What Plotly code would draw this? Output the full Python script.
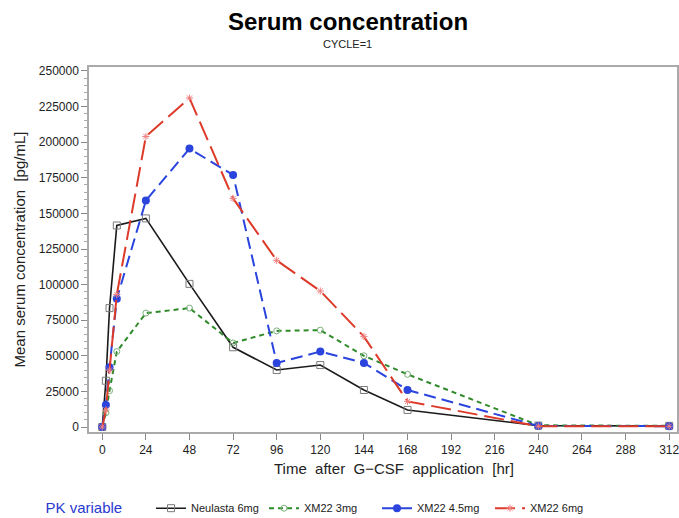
import plotly.graph_objects as go

times = [0, 2, 4, 8, 24, 48, 72, 96, 120, 144, 168, 240, 312]
neulasta_6mg = [0, 32500, 83500, 141500, 146500, 100500, 56000, 40000, 43500, 26000, 12000, 1000, 800]
xm22_3mg = [0, 10000, 25500, 53000, 80000, 83500, 59000, 67500, 68000, 50000, 37000, 1200, 800]
xm22_4_5mg = [0, 15500, 42000, 90000, 159000, 195500, 177000, 45000, 53000, 45000, 26000, 800, 600]
xm22_6mg = [0, 12000, 40000, 93000, 204000, 231000, 160500, 117000, 95500, 63500, 18000, 600, 500]

series_names = ["Neulasta 6mg", "XM22 3mg", "XM22 4.5mg", "XM22 6mg"]
x_ticks = list(range(0, 313, 24))
y_ticks = list(range(0, 250001, 25000))
y_tick_labels = [str(v) for v in y_ticks]

FONT = "Liberation Sans Narrow, Liberation Sans, Arial, sans-serif"

fig = go.Figure()
fig.add_trace(go.Scatter(
    x=times, y=neulasta_6mg, name=series_names[0], mode="lines+markers",
    line=dict(color="#1a1a1a", width=1.6),
    marker=dict(symbol="square-open", size=7, color="#7a7a7a", line=dict(width=1))))
fig.add_trace(go.Scatter(
    x=times, y=xm22_3mg, name=series_names[1], mode="lines+markers",
    line=dict(color="#2f8a2a", width=2, dash="5px,4px"),
    marker=dict(symbol="circle-open", size=6, color="#7ab07a", line=dict(width=1))))
fig.add_trace(go.Scatter(
    x=times, y=xm22_4_5mg, name=series_names[2], mode="lines+markers",
    line=dict(color="#2a44dd", width=2, dash="12px,6px"),
    marker=dict(symbol="circle", size=8, color="#2a44dd")))
fig.add_trace(go.Scatter(
    x=times, y=xm22_6mg, name=series_names[3], mode="lines+markers",
    line=dict(color="#dd3a2a", width=2, dash="20px,7px"),
    marker=dict(symbol="asterisk-open", size=6, color="#f08080", line=dict(width=1))))

fig.update_layout(
    width=679, height=518,
    margin=dict(l=89, r=0, t=67, b=86),
    paper_bgcolor="white", plot_bgcolor="white",
    font=dict(family=FONT, color="#222"),
    showlegend=True,
    legend=dict(
        orientation="h", xref="container", yref="container",
        x=0.064, y=0.018, xanchor="left", yanchor="middle",
        title=dict(text="PK variable     ", font=dict(size=15, color="#2a3ad0"), side="left"),
        font=dict(size=11, color="#222"),
        entrywidth=68, itemwidth=30,
        bgcolor="rgba(0,0,0,0)"),
)

fig.update_xaxes(
    range=[-7.3, 316.3], tickmode="array", tickvals=x_ticks,
    ticks="outside", ticklen=6, tickcolor="#888", tickwidth=1,
    tickfont=dict(size=12, color="#222"), ticklabeloverflow="allow",
    showline=True, linecolor="#aaa", linewidth=1.5, mirror=True,
    showgrid=False, zeroline=False)
fig.update_yaxes(
    range=[-3500, 252800], tickmode="array", tickvals=y_ticks, ticktext=y_tick_labels,
    ticks="outside", ticklen=6, tickcolor="#888", tickwidth=1,
    tickfont=dict(size=12, color="#222"),
    minor=dict(ticks="outside", ticklen=3, tickcolor="#aaa", dtick=5000, showgrid=False),
    showline=True, linecolor="#aaa", linewidth=1.5, mirror=True,
    showgrid=False, zeroline=False,
    title=dict(text="Mean serum concentration  [pg/mL]", font=dict(size=15, color="#222"), standoff=10))

fig.add_annotation(text="<b>Serum concentration</b>", xref="paper", yref="paper",
                   x=(349 - 89) / 590, y=1 + (67 - 22) / 365, xanchor="center", yanchor="middle",
                   showarrow=False, font=dict(size=24, color="#000", family=FONT))
fig.add_annotation(text="CYCLE=1", xref="paper", yref="paper",
                   x=(348 - 89) / 590, y=1 + (67 - 44) / 365, xanchor="center", yanchor="middle",
                   showarrow=False, font=dict(size=11, color="#222", family=FONT))
fig.add_annotation(text="Time  after  G\u2212CSF  application  [hr]", xref="paper", yref="paper",
                   x=(395 - 89) / 590, y=-(468 - 432) / 365, xanchor="center", yanchor="middle",
                   showarrow=False, font=dict(size=15, color="#222", family=FONT))

fig.write_html("out.html")
